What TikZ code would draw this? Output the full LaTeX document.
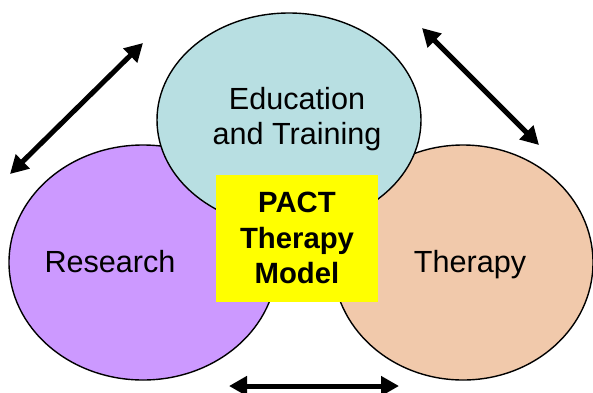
\documentclass[tikz,border=0pt]{standalone}
\usepackage{fontspec}
\setmainfont{Liberation Sans}
\usetikzlibrary{shapes.geometric,arrows.meta}
\definecolor{edublue}{HTML}{B8DFE2}
\definecolor{respurple}{HTML}{CC99FF}
\definecolor{therpeach}{HTML}{F1C9AB}
\definecolor{modelyellow}{HTML}{FFFF00}
\tikzset{
  area/.style={ellipse, draw=black, line width=1.4pt, inner sep=0pt},
  areatext/.style={font=\fontsize{30.6}{35}\selectfont, align=center, inner sep=0pt},
  modelbox/.style={fill=modelyellow, minimum width=162pt, minimum height=127pt, inner sep=0pt},
  modeltext/.style={font=\bfseries\fontsize{29.3}{35.5}\selectfont, align=center, inner sep=0pt},
  linkarrow/.style={line width=5pt, {Triangle[length=18pt,width=19pt]}-{Triangle[length=18pt,width=19pt]}},
}
\begin{document}
\begin{tikzpicture}[x=1pt,y=-1pt]
  \useasboundingbox (0,0) rectangle (593,392);
  % the three overlapping areas
  \node[area, fill=respurple, minimum width=268pt, minimum height=235pt] (research) at (143,262.5) {};
  \node[area, fill=therpeach, minimum width=260pt, minimum height=235pt] (therapy) at (463,262.5) {};
  \node[area, fill=edublue, minimum width=264pt, minimum height=214pt] (education) at (289,120) {};
  % labels
  \node[areatext] (edulabel) at (297,119.5) {Education\\and Training};
  \node[areatext, anchor=base] (reslabel) at (110,272) {Research};
  \node[areatext, anchor=base] (therlabel) at (470,272) {Therapy};
  % central model box
  \node[modelbox] (model) at (297,238.5) {};
  \node[modeltext] (modellabel) at (297,238) {PACT\\Therapy\\Model};
  % two-way links between the areas
  \coordinate (tlA) at (10,174);
  \coordinate (tlB) at (143,43);
  \coordinate (trA) at (422,28);
  \coordinate (trB) at (539,145);
  \coordinate (bA) at (229,386);
  \coordinate (bB) at (399,386);
  \draw[linkarrow] (tlA) -- (tlB);
  \draw[linkarrow] (trA) -- (trB);
  \draw[linkarrow] (bA) -- (bB);
\end{tikzpicture}
\end{document}
